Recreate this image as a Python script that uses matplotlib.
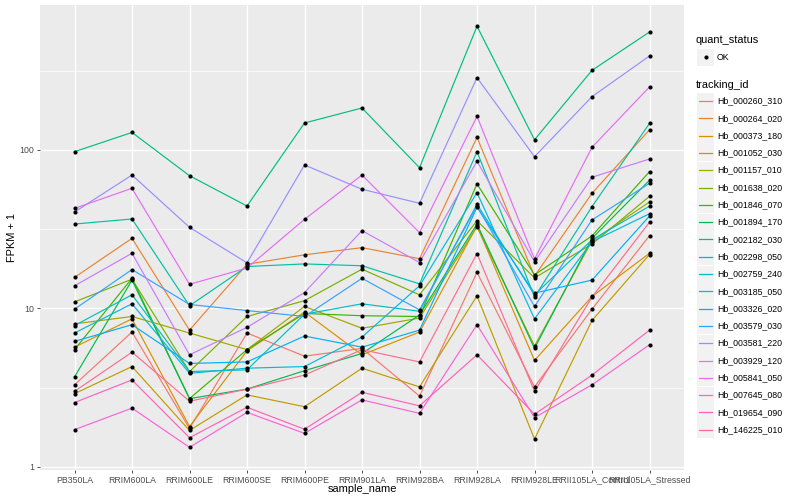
import matplotlib
matplotlib.use("Agg")
import matplotlib.pyplot as plt
from matplotlib.patches import Rectangle
import numpy as np

plt.rcParams["font.family"] = ["Liberation Sans", "DejaVu Sans"]

# x categories
samples = ["PB350LA", "RRIM600LA", "RRIM600LE", "RRIM600SE", "RRIM600PE", "RRIM901LA",
           "RRIM928BA", "RRIM928LA", "RRIM928LE", "RRII105LA_Control", "RRII105LA_Stressed"]

tracking_ids = ["Hb_000260_310", "Hb_000264_020", "Hb_000373_180", "Hb_001052_030",
                "Hb_001157_010", "Hb_001638_020", "Hb_001846_070", "Hb_001894_170",
                "Hb_002182_030", "Hb_002298_050", "Hb_002759_240", "Hb_003185_050",
                "Hb_003326_020", "Hb_003579_030", "Hb_003581_220", "Hb_003929_120",
                "Hb_005841_050", "Hb_007645_080", "Hb_019654_090", "Hb_146225_010"]

# ggplot hue palette, 20 levels
colors = ["#F8766D", "#EA8331", "#D89000", "#C09B00", "#A3A500", "#7CAE00", "#39B600",
          "#00BB4E", "#00BF7D", "#00C1A3", "#00BFC4", "#00BAE0", "#00B0F6", "#35A2FF",
          "#9590FF", "#C77CFF", "#E76BF3", "#FA62DB", "#FF62BC", "#FF6C91"]

# FPKM + 1 per sample
hb_000260_310 = [3.3, 7.1, 1.75, 7.0, 5.0, 5.6, 2.8, 16.9, 3.2, 9.9, 28.8]
hb_000264_020 = [15.7, 27.7, 7.3, 19.0, 21.8, 24.2, 20.6, 120, 16.0, 53.3, 134]
hb_000373_180 = [5.7, 8.6, 1.8, 5.4, 9.5, 5.1, 7.1, 33.2, 4.7, 11.9, 22.3]
hb_001052_030 = [2.9, 4.3, 1.7, 2.85, 2.4, 4.2, 3.2, 12.0, 1.5, 8.4, 21.9]
hb_001157_010 = [8.0, 8.9, 7.0, 5.5, 10.3, 7.5, 8.7, 32.8, 5.8, 26.7, 47.0]
hb_001638_020 = [11.0, 15.3, 4.0, 8.9, 11.2, 17.7, 12.2, 35.8, 15.6, 25.5, 51.0]
hb_001846_070 = [5.5, 15.5, 2.7, 5.5, 9.3, 9.0, 8.9, 61.1, 16.3, 28.7, 73.0]
hb_001894_170 = [3.7, 15.1, 2.7, 3.1, 4.05, 5.2, 9.1, 34.1, 5.6, 27.7, 64.4]
hb_002182_030 = [97.5, 129, 68.8, 44.3, 148, 184, 77.3, 603, 116, 318, 555]
hb_002298_050 = [34.1, 36.7, 10.4, 18.4, 19.1, 18.6, 14.3, 97.5, 11.8, 43.9, 147]
hb_002759_240 = [7.8, 12.2, 4.0, 4.1, 9.2, 10.7, 9.6, 45.4, 12.2, 27.1, 44.2]
hb_003185_050 = [7.0, 10.7, 3.9, 4.2, 4.3, 6.6, 13.9, 53.8, 8.6, 26.4, 39.6]
hb_003326_020 = [6.2, 7.9, 4.5, 4.6, 6.7, 5.7, 7.3, 43.5, 12.5, 15.1, 38.3]
hb_003579_030 = [9.9, 17.6, 10.6, 9.7, 8.9, 15.5, 9.8, 44.3, 10.3, 36.2, 61.6]
hb_003581_220 = [40.6, 69.5, 32.5, 19.4, 80.4, 56.5, 46.1, 286, 90.7, 217, 392]
hb_003929_120 = [13.9, 22.3, 5.1, 7.6, 12.6, 31.0, 19.5, 84.9, 19.7, 67.3, 87.7]
hb_005841_050 = [42.8, 57.3, 14.2, 18.0, 36.5, 69.5, 30.1, 163, 20.5, 104, 250]
hb_007645_080 = [1.72, 2.35, 1.33, 2.21, 1.63, 2.65, 2.18, 7.9, 2.05, 3.3, 5.9]
hb_019654_090 = [2.55, 3.54, 1.53, 2.38, 1.73, 2.96, 2.43, 5.1, 2.15, 3.8, 7.3]
hb_146225_010 = [3.0, 5.3, 2.6, 3.1, 3.8, 5.5, 4.6, 22.2, 3.0, 11.8, 35.0]

series = [hb_000260_310, hb_000264_020, hb_000373_180, hb_001052_030, hb_001157_010,
          hb_001638_020, hb_001846_070, hb_001894_170, hb_002182_030, hb_002298_050,
          hb_002759_240, hb_003185_050, hb_003326_020, hb_003579_030, hb_003581_220,
          hb_003929_120, hb_005841_050, hb_007645_080, hb_019654_090, hb_146225_010]

fig = plt.figure(figsize=(8, 5), dpi=100)
ax = fig.add_axes([0.05, 0.06, 0.805, 0.9294])
ax.set_facecolor("#EBEBEB")
for s in ax.spines.values():
    s.set_visible(False)

x = np.arange(1, len(samples) + 1)
for vals, col in zip(series, colors):
    ax.plot(x, vals, color=col, lw=0.85, zorder=3)
for vals in series:
    ax.plot(x, vals, "o", color="black", ms=3.0, mew=0, zorder=4)

ax.set_yscale("log")
ax.set_ylim(0.957, 818)
ax.set_xlim(0.4, len(samples) + 0.6)

ax.set_yticks([1, 10, 100])
ax.set_yticklabels(["1", "10", "100"])
ax.set_yticks([10 ** 0.5, 10 ** 1.5, 10 ** 2.5], minor=True)
ax.yaxis.set_minor_formatter(plt.NullFormatter())
ax.set_xticks(x)
ax.set_xticklabels(samples)

ax.grid(which="major", color="white", lw=1.0, zorder=0)
ax.grid(which="minor", axis="y", color="white", lw=0.5, zorder=0)
ax.set_axisbelow(True)
ax.tick_params(which="major", length=2.5, width=0.6, color="#333333",
               labelsize=6.3, labelcolor="#4D4D4D", pad=1.5)
ax.tick_params(which="minor", length=0)

# axis titles placed like ggplot
fig.text(362 / 800, 1 - 489 / 500, "sample_name", fontsize=7.9, ha="center", va="center")
fig.text(12 / 800, 1 - 238 / 500, "FPKM + 1", fontsize=7.9, ha="center", va="center",
         rotation=90)

# legends (drawn in pixel coordinates)
lg = fig.add_axes([0, 0, 1, 1])
lg.set_xlim(0, 800)
lg.set_ylim(500, 0)
lg.axis("off")

lg.text(696, 40, "quant_status", fontsize=7.9, va="center", ha="left")
lg.add_patch(Rectangle((697, 48.5), 17, 17, color="#F2F2F2", lw=0))
lg.plot([705.5], [57], "o", color="black", ms=3.0, mew=0)
lg.text(717, 57, "OK", fontsize=6.3, va="center", ha="left")

lg.text(696, 85, "tracking_id", fontsize=7.9, va="center", ha="left")
for i, (tid, col) in enumerate(zip(tracking_ids, colors)):
    yc = 101 + 17.3 * i
    lg.add_patch(Rectangle((697, yc - 8.5), 17, 17, color="#F2F2F2", lw=0))
    lg.plot([699, 712], [yc, yc], color=col, lw=0.9)
    lg.text(717, yc, tid, fontsize=6.3, va="center", ha="left")

fig.savefig("out.png", dpi=100)
